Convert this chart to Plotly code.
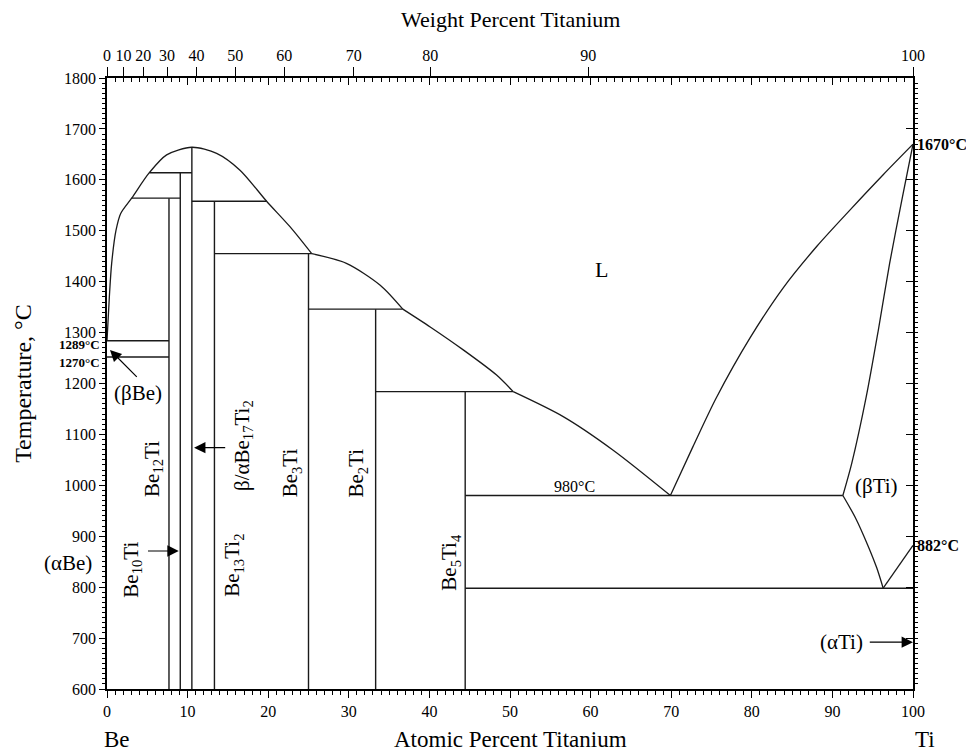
import plotly.graph_objects as go

# ---------------- data (atomic % Ti, temperature in °C) ----------------
be_liq_x = [0, 0.29, 0.58, 1.12, 1.7, 3.06, 5.25, 7.4, 10.53, 13.6, 16.5, 19.8, 22.7, 25.4]
be_liq_t = [1284, 1370, 1436, 1501, 1534, 1564, 1614, 1649, 1664, 1652, 1619, 1558, 1508, 1455]
dome2_x = [25.4, 29.7, 33.9, 36.7]
dome2_t = [1455, 1436, 1393, 1346]
dome3_x = [36.7, 40.1, 44.2, 48.3, 50.4]
dome3_t = [1346, 1311, 1266, 1217, 1184]
liq4_x = [50.4, 56.6, 62.8, 69.9]
liq4_t = [1184, 1135, 1069, 980]
ti_liq_x = [69.9, 72.7, 75.6, 79.8, 83.9, 88.1, 92.2, 96.3, 100]
ti_liq_t = [980, 1076, 1172, 1290, 1388, 1470, 1541, 1610, 1670]
ti_sol_x = [91.3, 92.4, 94.2, 95.7, 97.1, 98.7, 100]
ti_sol_t = [980, 1043, 1174, 1305, 1436, 1567, 1670]
bti_solvus_x = [91.3, 92.9, 94.4, 95.5, 96.3]
bti_solvus_t = [980, 935, 882, 838, 798]
ati_x = [96.3, 100]
ati_t = [798, 882]

iso_x0 = [0, 0, 3.06, 5.25, 10.53, 13.33, 25.0, 33.33, 44.44, 44.44]
iso_x1 = [7.69, 7.69, 9.09, 10.53, 19.8, 25.4, 36.7, 50.4, 91.3, 100]
iso_t = [1284, 1252, 1564, 1614, 1558, 1455, 1346, 1184, 980, 798]

comp_x = [7.69, 9.09, 10.53, 13.33, 25.0, 33.33, 44.44]
comp_top = [1564, 1614, 1664, 1558, 1455, 1346, 1184]
t_min, t_max = 600, 1800

at_ticks = [0, 10, 20, 30, 40, 50, 60, 70, 80, 90, 100]
wt_ticks = [0, 10, 20, 30, 40, 50, 60, 70, 80, 90, 100]
# where each weight-percent label sits on the atomic-percent scale
wt_tick_at = [0, 2.05, 4.5, 7.45, 11.1, 15.9, 22.0, 30.6, 40.1, 59.7, 100]
t_ticks = [600, 700, 800, 900, 1000, 1100, 1200, 1300, 1400, 1500, 1600, 1700, 1800]

FONT = "Liberation Serif, Times New Roman, serif"
LC = "#1a1a1a"
fig = go.Figure()

# straight lines (isotherms and compound verticals)
sx, sy = [], []
for a, b, t in zip(iso_x0, iso_x1, iso_t):
    sx += [a, b, None]
    sy += [t, t, None]
for x, top in zip(comp_x, comp_top):
    sx += [x, x, None]
    sy += [t_min, top, None]
fig.add_trace(go.Scatter(x=sx, y=sy, mode="lines", line=dict(color=LC, width=1.4),
                         cliponaxis=False, hoverinfo="skip"))

curves = [(be_liq_x, be_liq_t), (dome2_x, dome2_t),
          (dome3_x, dome3_t), (liq4_x, liq4_t), (ti_liq_x, ti_liq_t),
          (ti_sol_x, ti_sol_t), (bti_solvus_x, bti_solvus_t)]
for cx, ct in curves:
    fig.add_trace(go.Scatter(x=cx, y=ct, mode="lines",
                             line=dict(color=LC, width=1.3, shape="spline", smoothing=0.8),
                             cliponaxis=False, hoverinfo="skip"))
fig.add_trace(go.Scatter(x=ati_x, y=ati_t, mode="lines", line=dict(color=LC, width=1.3),
                         cliponaxis=False, hoverinfo="skip"))

# invisible traces to activate overlay axes
fig.add_trace(go.Scatter(x=[None], y=[None], xaxis="x2", yaxis="y", showlegend=False))
fig.add_trace(go.Scatter(x=[None], y=[None], xaxis="x3", yaxis="y", showlegend=False))
fig.add_trace(go.Scatter(x=[None], y=[None], xaxis="x", yaxis="y2", showlegend=False))

ann = []


def txt(x, y, s, size=21, angle=0, bold=False, xanchor="center", yanchor="middle", xshift=0, yshift=0,
        xref="x", yref="y"):
    if bold:
        s = "<b>" + s + "</b>"
    ann.append(dict(x=x, y=y, xref=xref, yref=yref, text=s, showarrow=False, textangle=angle,
                    font=dict(family=FONT, size=size, color="black"), xanchor=xanchor,
                    yanchor=yanchor, xshift=xshift, yshift=yshift, borderpad=0))


def arrow(x, y, ax, ay):
    ann.append(dict(x=x, y=y, ax=ax, ay=ay, xref="x", yref="y", axref="x", ayref="y", text="",
                    showarrow=True, arrowhead=2, arrowsize=1.9, arrowwidth=1.2, arrowcolor="black"))


txt(61.4, 1423, "L", size=22)
txt(58.0, 998, "980°C", size=16)
txt(95.5, 998, "(βTi)", size=21)
txt(91.15, 692, "(αTi)", size=21)
arrow(100, 692, 94.45, 692)
txt(3.85, 1182, "(βBe)", size=21)
arrow(0.37, 1266, 3.88, 1210)
txt(5.63, 1033, "Be<sub>12</sub>Ti", angle=-90)
txt(3.14, 835, "Be<sub>10</sub>Ti", angle=-90)
arrow(8.9, 871, 4.9, 871)
txt(16.8, 1078, "β/αBe<sub>17</sub>Ti<sub>2</sub>", angle=-90)
arrow(10.8, 1074, 14.85, 1074)
txt(15.7, 843, "Be<sub>13</sub>Ti<sub>2</sub>", angle=-90)
txt(22.8, 1025, "Be<sub>3</sub>Ti", angle=-90)
txt(31.0, 1025, "Be<sub>2</sub>Ti", angle=-90)
txt(42.55, 850, "Be<sub>5</sub>Ti<sub>4</sub>", angle=-90)

txt(100, 1670, "1670°C", size=16, bold=True, xanchor="left", xshift=3)
txt(100, 882, "882°C", size=16, bold=True, xanchor="left", xshift=3)
txt(0, 1276, "1289°C", size=13, bold=True, xanchor="right", xshift=-6)
txt(0, 1242, "1270°C", size=13, bold=True, xanchor="right", xshift=-6)
txt(0, 847, "(αBe)", size=21, xanchor="right", xshift=-14)

# axis titles and end labels
txt(0.5, -0.083, "Atomic Percent Titanium", size=23, xref="paper", yref="paper")
txt(0.012, -0.083, "Be", size=23, xref="paper", yref="paper")
txt(1.015, -0.083, "Ti", size=23, xref="paper", yref="paper")
txt(0.5, 1.095, "Weight Percent Titanium", size=22, xref="paper", yref="paper")
txt(-0.105, 0.5, "Temperature, °C", size=24, angle=-90, xref="paper", yref="paper")

axfont = dict(family=FONT, size=16, color="black")
# page body has an 8px margin, so the figure is sized 8px smaller on each axis
fig.update_layout(
    width=966, height=743,
    margin=dict(l=99, r=61, t=70, b=62, autoexpand=False),
    paper_bgcolor="white", plot_bgcolor="white",
    showlegend=False, hovermode=False,
    font=dict(family=FONT, color="black"),
    annotations=ann,
    xaxis=dict(range=[0, 100], tickmode="array", tickvals=at_ticks, ticktext=[str(v) for v in at_ticks],
               ticks="outside", ticklen=7, tickwidth=1.2, tickcolor="black", ticklabelstandoff=0,
               minor=dict(dtick=1, ticks="outside", ticklen=4, tickwidth=1, tickcolor="black"),
               showline=True, linewidth=1.6, linecolor="black", showgrid=False, zeroline=False,
               tickfont=axfont, automargin=False),
    xaxis2=dict(range=[0, 100], overlaying="x", side="top", tickmode="array", tickvals=wt_tick_at,
                ticktext=[str(w) for w in wt_ticks], ticks="outside", ticklen=9, tickwidth=1.2,
                tickcolor="black",
                showline=True, linewidth=1.6, linecolor="black", showgrid=False, zeroline=False,
                tickfont=axfont, automargin=False),
    xaxis3=dict(range=[0, 100], overlaying="x", side="top", tickmode="array",
                tickvals=at_ticks[1:-1], ticks="inside", ticklen=7, tickwidth=1.2, tickcolor="black",
                minor=dict(dtick=1, ticks="inside", ticklen=4, tickwidth=1, tickcolor="black"),
                showticklabels=False, showline=False, showgrid=False, zeroline=False, automargin=False),
    yaxis=dict(range=[t_min, t_max], tickmode="array", tickvals=t_ticks,
               ticktext=[str(v) for v in t_ticks], ticks="outside", ticklen=6, tickwidth=1.2,
               tickcolor="black",
               minor=dict(dtick=10, ticks="outside", ticklen=3, tickwidth=1, tickcolor="black"),
               showline=True, linewidth=1.6, linecolor="black", showgrid=False, zeroline=False,
               tickfont=axfont, automargin=False),
    yaxis2=dict(range=[t_min, t_max], overlaying="y", side="right", tickmode="array",
                tickvals=t_ticks, ticks="inside", ticklen=7, tickwidth=1.2, tickcolor="black",
                minor=dict(dtick=10, ticks="outside", ticklen=3, tickwidth=1, tickcolor="black"),
                showticklabels=False, showline=True, linewidth=1.6, linecolor="black",
                showgrid=False, zeroline=False, automargin=False),
)

fig.write_html("out.html")
